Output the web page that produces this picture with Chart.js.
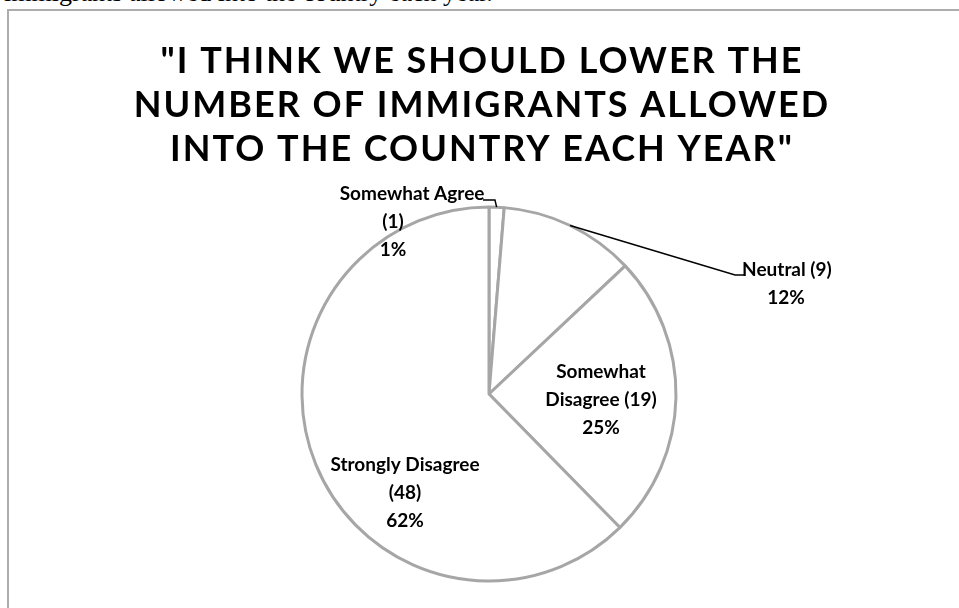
<!DOCTYPE html>
<html>
<head>
<meta charset="utf-8">
<script src="https://cdn.jsdelivr.net/npm/chart.js@4.4.1/dist/chart.umd.min.js"></script>
<style>
  html, body { margin: 0; padding: 0; background: #fff; overflow: hidden; }
  #page { position: relative; width: 959px; height: 608px; overflow: hidden; }
  #caption { position: absolute; left: 4px; top: -20px; font: 26px "Liberation Serif", "Times New Roman", serif; line-height: 26px; white-space: nowrap; color: #000; }
  #frame { position: absolute; left: 7px; top: 9px; width: 1200px; height: 900px; border: 2px solid #adadad; }
  #wrap { position: absolute; left: 0; top: 0; width: 959px; height: 608px; }
</style>
</head>
<body>
<div id="page">
  <div id="caption">immigrants allowed into the country each year.</div>
  <div id="frame"></div>
  <div id="wrap"><canvas id="opinionChart"></canvas></div>
</div>
<script>
const titleLines = ['"I THINK WE SHOULD LOWER THE', 'NUMBER OF IMMIGRANTS ALLOWED', 'INTO THE COUNTRY EACH YEAR"'];
const categories = ['Somewhat Agree', 'Neutral', 'Somewhat Disagree', 'Strongly Disagree'];
const responses = [1, 9, 19, 48];
// word after which a category name wraps (0 = one line), and whether the count gets its own line
const wrapAfterWord = [0, 0, 1, 0];
const countOwnLine = [true, false, false, true];

const total = responses.reduce((a, b) => a + b, 0);

function labelLines(i) {
    const words = categories[i].split(' ');
    const lines = wrapAfterWord[i] > 0
        ? [words.slice(0, wrapAfterWord[i]).join(' '), words.slice(wrapAfterWord[i]).join(' ')]
        : [categories[i]];
    const count = '(' + responses[i] + ')';
    if (countOwnLine[i]) lines.push(count);
    else lines[lines.length - 1] += ' ' + count;
    lines.push(Math.round(responses[i] / total * 100) + '%');
    return lines;
}

// label spots in pie radii from the centre; leaders run arc -> elbow -> end
const labelSpots = [
    { dx: -0.513, dy: -1.07, shift: [19, 0, 0], leader: [[0.032, -1.037], [-0.032, -1.037]] },
    { dx: 1.588, dy: -0.663, shift: [1, 0], leader: [[1.316, -0.636], [1.364, -0.636]] },
    { dx: 0.599, dy: -0.118, shift: [0, 0, 0], leader: null },
    { dx: -0.449, dy: 0.380, shift: [0, 0, 0], leader: null }
];

const excelLabels = {
    id: 'excelLabels',
    afterDraw(chart) {
        const ctx = chart.ctx;
        const meta = chart.getDatasetMeta(0);
        const first = meta.data[0];
        const cx = first.x, cy = first.y, r = first.outerRadius;

        ctx.save();
        ctx.fillStyle = '#000';
        ctx.textAlign = 'center';
        ctx.textBaseline = 'middle';

        // chart title, spaced out capitals
        ctx.font = 'bold 36px Lato';
        ctx.letterSpacing = '2px';
        titleLines.forEach((line, k) => ctx.fillText(line, 482, 61 + k * 44));
        ctx.letterSpacing = '0px';

        ctx.font = 'bold 19px Lato';
        meta.data.forEach((arc, i) => {
            const spot = labelSpots[i];
            const x = cx + spot.dx * r;
            const y = cy + spot.dy * r;
            labelLines(i).forEach((line, k) => {
                ctx.fillText(line, x + (spot.shift[k] || 0), y + k * 28);
            });
            if (spot.leader) {
                const mid = (arc.startAngle + arc.endAngle) / 2;
                ctx.beginPath();
                ctx.moveTo(cx + Math.cos(mid) * r, cy + Math.sin(mid) * r);
                spot.leader.forEach(p => ctx.lineTo(cx + p[0] * r, cy + p[1] * r));
                ctx.strokeStyle = '#000';
                ctx.lineWidth = 1.5;
                ctx.stroke();
            }
        });
        ctx.restore();
    }
};

const opinionChart = new Chart(document.getElementById('opinionChart'), {
    type: 'pie',
    data: {
        labels: categories,
        datasets: [{
            data: responses,
            backgroundColor: '#ffffff',
            borderColor: '#a6a6a6',
            borderWidth: 3,
            hoverOffset: 0
        }]
    },
    options: {
        responsive: true,
        maintainAspectRatio: false,
        animation: false,
        layout: {
            padding: { top: 205.5, bottom: 25.5, left: 119, right: 100 }
        },
        plugins: {
            legend: { display: false },
            tooltip: { enabled: false },
            title: { display: false }
        }
    },
    plugins: [excelLabels]
});
</script>
</body>
</html>
